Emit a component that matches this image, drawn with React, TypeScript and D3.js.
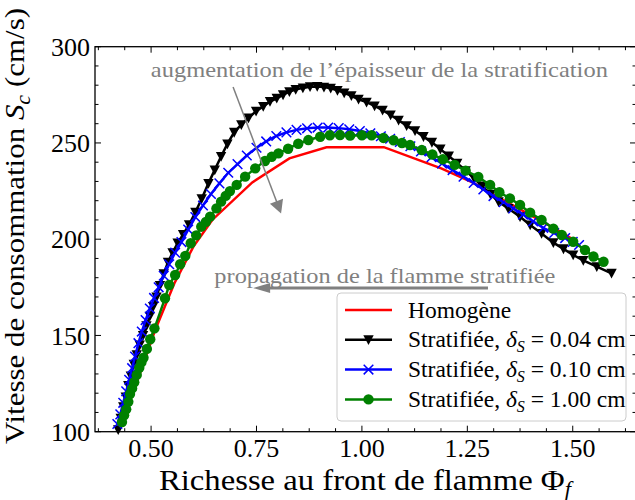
import React from 'react';
import * as d3 from 'd3';

const W = 635;
const H = 500;

// Homogène (red line, no markers)
const phiHomo = [0.430, 0.470, 0.510, 0.555, 0.600, 0.645, 0.740, 0.828, 0.916, 1.052, 1.188, 1.262, 1.330, 1.400, 1.470, 1.500];
const scHomo = [104, 128, 153, 177, 196, 210, 229.5, 242, 247.8, 247.8, 236.8, 229.5, 221, 212.5, 204, 200];

// Stratifiée, delta_S = 0.04 cm (black, triangles)
const phi004 = [0.422, 0.428, 0.434, 0.440, 0.446, 0.452, 0.459, 0.466, 0.473, 0.481, 0.489, 0.497, 0.505, 0.513, 0.521, 0.530, 0.540, 0.551, 0.563, 0.576, 0.590, 0.605, 0.620, 0.636, 0.651, 0.666, 0.681, 0.697, 0.714, 0.731, 0.749, 0.766, 0.782, 0.798, 0.813, 0.828, 0.843, 0.860, 0.877, 0.894, 0.910, 0.926, 0.942, 0.958, 0.975, 0.992, 1.011, 1.030, 1.049, 1.068, 1.087, 1.106, 1.126, 1.146, 1.166, 1.186, 1.206, 1.226, 1.246, 1.266, 1.285, 1.305, 1.324, 1.347, 1.375, 1.399, 1.426, 1.454, 1.478, 1.501, 1.525, 1.557, 1.592];
const sc004 = [101, 107, 113, 118, 124, 129, 135, 140, 145, 150, 155, 160, 165, 170, 176, 182, 188, 193, 198, 202.5, 207.5, 214, 221, 229, 236, 243, 249.5, 255.5, 259.5, 263, 266.5, 269, 271.5, 273.2, 275, 276.6, 277.8, 278.6, 279.2, 279.3, 279, 278.4, 277.3, 276, 274.5, 272.7, 271.2, 269.2, 267, 264.5, 261.8, 259, 256.3, 253.3, 250.3, 246.8, 243.2, 239.5, 235.6, 231.6, 227.6, 223.4, 219.5, 216, 211.7, 207.4, 203, 198.2, 195, 191.8, 189, 185.7, 182.3];

// Stratifiée, delta_S = 0.10 cm (blue, x)
const phi010 = [0.420, 0.427, 0.434, 0.441, 0.448, 0.455, 0.462, 0.470, 0.478, 0.487, 0.497, 0.507, 0.518, 0.530, 0.543, 0.557, 0.572, 0.588, 0.605, 0.623, 0.642, 0.662, 0.683, 0.705, 0.727, 0.750, 0.773, 0.797, 0.821, 0.845, 0.870, 0.895, 0.920, 0.945, 0.970, 0.995, 1.020, 1.045, 1.067, 1.090, 1.115, 1.140, 1.165, 1.190, 1.215, 1.241, 1.265, 1.288, 1.312, 1.336, 1.359, 1.382, 1.406, 1.430, 1.456, 1.482, 1.500, 1.515];
const sc010 = [104, 109, 115, 121, 127, 133, 139, 146, 152, 158, 164, 169.5, 175, 181, 187, 193, 198.5, 205, 211.5, 217.5, 223.5, 229, 234.5, 239, 243.5, 247.5, 250.8, 253.6, 255.5, 256.8, 257.6, 258, 258, 257.7, 257.1, 256.2, 255, 253.5, 252.2, 250.5, 248.3, 245.6, 242.6, 239.3, 235.9, 232.5, 229.2, 225.8, 222.4, 219.2, 216, 212.8, 209.3, 205.9, 203.2, 200.6, 198.6, 197];

// Stratifiée, delta_S = 1.00 cm (green, circles)
const phi100 = [0.431, 0.436, 0.441, 0.446, 0.450, 0.455, 0.460, 0.466, 0.472, 0.477, 0.482, 0.490, 0.498, 0.508, 0.533, 0.543, 0.557, 0.569, 0.581, 0.594, 0.607, 0.619, 0.630, 0.640, 0.655, 0.666, 0.677, 0.687, 0.703, 0.723, 0.747, 0.770, 0.786, 0.802, 0.825, 0.849, 0.873, 0.901, 0.924, 0.948, 0.972, 1.000, 1.023, 1.051, 1.075, 1.095, 1.114, 1.142, 1.167, 1.192, 1.220, 1.246, 1.276, 1.304, 1.326, 1.351, 1.375, 1.399, 1.426, 1.454, 1.474, 1.501, 1.529, 1.549, 1.573];
const sc100 = [105, 108.5, 111.6, 115.5, 119.6, 122.5, 125.7, 129.5, 133.2, 136, 138.4, 143, 148, 153.7, 169.3, 176.2, 181.4, 187, 191.3, 197.9, 202, 206.5, 209, 211.7, 216, 219.5, 222.5, 225, 228.2, 232.5, 236.8, 240.6, 242.8, 244.6, 247, 249.6, 251.5, 253.2, 254, 254.1, 253.8, 254, 254, 252.6, 251.4, 250, 248.9, 246.3, 244, 241.5, 238.6, 235.6, 232.3, 228.2, 224.4, 221.2, 217.8, 213.8, 210, 205.5, 202.2, 198.7, 194.4, 191, 188.3];

const xTickValues = [0.5, 0.75, 1.0, 1.25, 1.5];
const xTickLabels = ['0.50', '0.75', '1.00', '1.25', '1.50'];
const yTickValues = [100, 150, 200, 250, 300];
const yTickLabels = ['100', '150', '200', '250', '300'];

const legendLabels = ['Homogène', '0.04', '0.10', '1.00'];

const FONT = '"Liberation Serif", "Times New Roman", serif';
const GRAY = '#808080';

const x = d3.scaleLinear().domain([0.367, 1.65]).range([95, 636]);
const y = d3.scaleLinear().domain([100, 300]).range([431.7, 46.7]);

const xMinor = d3.range(0.375, 1.65, 0.0625).filter(v => !xTickValues.some(t => Math.abs(t - v) < 1e-6));
const yMinor = d3.range(110, 300, 10).filter(v => v % 50 !== 0);

const zip = (a: number[], b: number[]) => a.map((v, i) => [v, b[i]] as [number, number]);

const line = d3.line<[number, number]>().x(d => x(d[0])).y(d => y(d[1]));

const Tri = ({ cx, cy }: { cx: number; cy: number }) => (
  <path d={`M${cx - 5.2},${cy - 4.5}L${cx + 5.2},${cy - 4.5}L${cx},${cy + 5.3}Z`} fill="black" />
);
const Cross = ({ cx, cy }: { cx: number; cy: number }) => (
  <path d={`M${cx - 4.8},${cy - 4.8}L${cx + 4.8},${cy + 4.8}M${cx - 4.8},${cy + 4.8}L${cx + 4.8},${cy - 4.8}`} stroke="blue" strokeWidth={1.5} fill="none" />
);
const Dot = ({ cx, cy }: { cx: number; cy: number }) => <circle cx={cx} cy={cy} r={5.2} fill="green" />;

const arrowHead = (x0: number, y0: number, x1: number, y1: number, len: number, half: number) => {
  const dx = x1 - x0, dy = y1 - y0;
  const L = Math.hypot(dx, dy);
  const ux = dx / L, uy = dy / L;
  const bx = x1 - ux * len, by = y1 - uy * len;
  return `M${x1},${y1}L${bx - uy * half},${by + ux * half}L${bx + uy * half},${by - ux * half}Z`;
};

export default function App() {
  const [xl, xr] = x.range();
  const [yb, yt] = y.range();

  const a1 = { x0: x(0.6945), y0: y(279.1), x1: x(0.8083), y1: y(213.4) };
  const a2 = { x0: x(1.299), y0: y(174.6), x1: x(0.742), y1: y(174.6) };

  const legendRows = [0, 1, 2, 3].map(i => 310 + i * 29.8);

  return (
    <svg width={W} height={H} style={{ position: 'absolute', left: 0, top: 0, background: 'white' }} fontFamily={FONT}>
      <rect x={0} y={0} width={W} height={H} fill="white" />

      {/* series */}
      <path d={line(zip(phiHomo, scHomo)) || ''} fill="none" stroke="red" strokeWidth={2.5} />
      <path d={line(zip(phi004, sc004)) || ''} fill="none" stroke="black" strokeWidth={2.5} />
      {phi004.map((p, i) => <Tri key={'t' + i} cx={x(p)} cy={y(sc004[i])} />)}
      <path d={line(zip(phi010, sc010)) || ''} fill="none" stroke="blue" strokeWidth={2.5} />
      {phi010.map((p, i) => <Cross key={'c' + i} cx={x(p)} cy={y(sc010[i])} />)}
      <path d={line(zip(phi100, sc100)) || ''} fill="none" stroke="green" strokeWidth={2.5} />
      {phi100.map((p, i) => <Dot key={'d' + i} cx={x(p)} cy={y(sc100[i])} />)}

      {/* annotations */}
      <text x={x(0.4995)} y={y(284.4)} fontSize={22} fill={GRAY} textLength={457} lengthAdjust="spacingAndGlyphs">
        augmentation de l’épaisseur de la stratification
      </text>
      <line x1={a1.x0} y1={a1.y0} x2={a1.x1 - (a1.x1 - a1.x0) * 0.08} y2={a1.y1 - (a1.y1 - a1.y0) * 0.08} stroke={GRAY} strokeWidth={1.5} />
      <path d={arrowHead(a1.x0, a1.y0, a1.x1, a1.y1, 13, 7)} fill={GRAY} />

      <text x={x(0.650)} y={y(177.2)} fontSize={22} fill={GRAY} textLength={341} lengthAdjust="spacingAndGlyphs">
        propagation de la flamme stratifiée
      </text>
      <line x1={a2.x0} y1={a2.y0} x2={a2.x1 + 12} y2={a2.y1} stroke={GRAY} strokeWidth={3} />
      <path d={arrowHead(a2.x0, a2.y0, a2.x1, a2.y1, 17, 5)} fill={GRAY} />

      {/* legend */}
      <rect x={337} y={293} width={289} height={128} rx={4} fill="white" fillOpacity={0.8} stroke="#cccccc" strokeWidth={1} />
      {legendRows.map((ry, i) => {
        const color = ['red', 'black', 'blue', 'green'][i];
        return (
          <g key={'lg' + i}>
            <line x1={345} x2={392} y1={ry} y2={ry} stroke={color} strokeWidth={2.5} />
            {i === 1 && <Tri cx={368.5} cy={ry} />}
            {i === 2 && <Cross cx={368.5} cy={ry} />}
            {i === 3 && <Dot cx={368.5} cy={ry} />}
            {i === 0 ? (
              <text x={408} y={ry + 7.5} fontSize={23.5}>{legendLabels[0]}</text>
            ) : (
              <text x={408} y={ry + 7.5} fontSize={23.5}>
                Stratifiée, <tspan fontStyle="italic">δ</tspan>
                <tspan fontStyle="italic" fontSize={16} dy={5}>S</tspan>
                <tspan dy={-5}> = {legendLabels[i]} cm</tspan>
              </text>
            )}
          </g>
        );
      })}

      {/* ticks */}
      <g stroke="black" strokeWidth={1}>
        {xTickValues.map(v => (
          <g key={'xt' + v}>
            <line x1={x(v)} x2={x(v)} y1={yb} y2={yb - 6} />
            <line x1={x(v)} x2={x(v)} y1={yt} y2={yt + 6} />
          </g>
        ))}
        {xMinor.map(v => (
          <g key={'xm' + v}>
            <line x1={x(v)} x2={x(v)} y1={yb} y2={yb - 3.5} />
            <line x1={x(v)} x2={x(v)} y1={yt} y2={yt + 3.5} />
          </g>
        ))}
        {yTickValues.map(v => (
          <g key={'yt' + v}>
            <line x1={xl} x2={xl + 6} y1={y(v)} y2={y(v)} />
            <line x1={xr} x2={xr - 6} y1={y(v)} y2={y(v)} />
          </g>
        ))}
        {yMinor.map(v => (
          <g key={'ym' + v}>
            <line x1={xl} x2={xl + 3.5} y1={y(v)} y2={y(v)} />
            <line x1={xr} x2={xr - 3.5} y1={y(v)} y2={y(v)} />
          </g>
        ))}
      </g>
      <rect x={xl} y={yt} width={xr - xl} height={yb - yt} fill="none" stroke="black" strokeWidth={1.3} />

      {/* tick labels */}
      {xTickValues.map((v, i) => (
        <text key={'xl' + v} x={x(v)} y={456.7} fontSize={26} textAnchor="middle">{xTickLabels[i]}</text>
      ))}
      {yTickValues.map((v, i) => (
        <text key={'yl' + v} x={90} y={y(v)} dy="0.35em" fontSize={26} textAnchor="end">{yTickLabels[i]}</text>
      ))}

      {/* axis labels */}
      <text x={365} y={490} fontSize={29} textAnchor="middle" textLength={412} lengthAdjust="spacingAndGlyphs">
        Richesse au front de flamme Φ<tspan fontStyle="italic" fontSize={20} dy={6}>f</tspan>
      </text>
      <text transform="translate(24,226) rotate(-90)" fontSize={28} textAnchor="middle" textLength={436} lengthAdjust="spacingAndGlyphs">
        Vitesse de consommation <tspan fontStyle="italic">S</tspan>
        <tspan fontStyle="italic" fontSize={20} dy={6}>c</tspan>
        <tspan dy={-6}> (cm/s)</tspan>
      </text>
    </svg>
  );
}
